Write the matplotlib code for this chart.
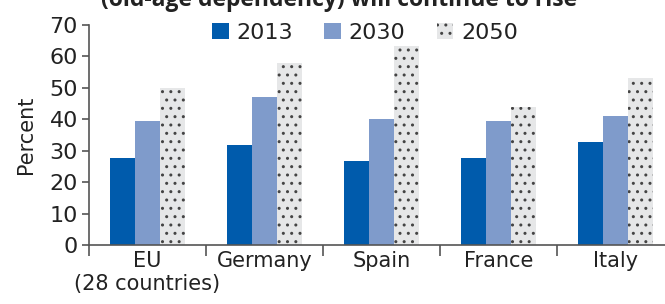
import matplotlib
matplotlib.use("Agg")
import matplotlib.pyplot as plt
import numpy as np

categories = ["EU\n(28 countries)", "Germany", "Spain", "France", "Italy"]
series_names = ["2013", "2030", "2050"]
v2013 = [27.6, 31.8, 26.8, 27.6, 32.8]
v2030 = [39.4, 47.0, 40.0, 39.4, 41.0]
v2050 = [49.8, 57.8, 63.3, 44.0, 53.0]
yticks = [0, 10, 20, 30, 40, 50, 60, 70]

fam = ["Liberation Sans Narrow", "DejaVu Sans"]
plt.rcParams['font.family'] = fam
plt.rcParams['hatch.color'] = '#444444'
plt.rcParams['hatch.linewidth'] = 1.0

fig = plt.figure(figsize=(6.65, 3.04), dpi=100)
ax = fig.add_axes([89/665, 1-245/304, 585/665, 220/304])

x = np.arange(len(categories)) + 0.5
w = 25/117
ax.bar(x - w, v2013, w, color="#005BAC", label=series_names[0])
ax.bar(x, v2030, w, color="#7F9BCB", label=series_names[1])
ax.bar(x + w, v2050, w, color="#E6E7E8", hatch="..", edgecolor="#444444", linewidth=0, label=series_names[2])

ax.set_xlim(0, 5)
ax.set_ylim(0, 70)
ax.set_yticks(yticks)
ax.set_xticks(np.arange(0, 6))
ax.set_xticklabels([])
ax.set_xticks(x, minor=True)
ax.set_xticklabels(categories, minor=True, fontsize=15, color="#222222", va="top")
ax.tick_params(axis='x', which='minor', length=0, pad=4)
ax.tick_params(axis='x', which='major', length=8, width=1.2, color="#555555")
ax.tick_params(axis='y', length=5, width=1.2, color="#555555", labelsize=16, labelcolor="#222222", pad=3)
for s in ["top", "right"]:
    ax.spines[s].set_visible(False)
for s in ["left", "bottom"]:
    ax.spines[s].set_color("#555555")
    ax.spines[s].set_linewidth(1.2)
ax.set_ylabel("Percent", fontsize=15, color="#222222", labelpad=10)

leg = ax.legend(loc="upper center", bbox_to_anchor=(0.472, 1.10), ncol=3, frameon=False,
                fontsize=16, handlelength=0.75, handleheight=0.75, handletextpad=0.35,
                columnspacing=1.4, labelcolor="#222222")

fig.text(339/665, 1 - 6/304, "(old-age dependency) will continue to rise", ha="center", va="baseline",
         fontsize=16.5, fontweight="bold", color="#222222", family=["Open Sans", "DejaVu Sans"])

fig.savefig("out.png", dpi=100)
